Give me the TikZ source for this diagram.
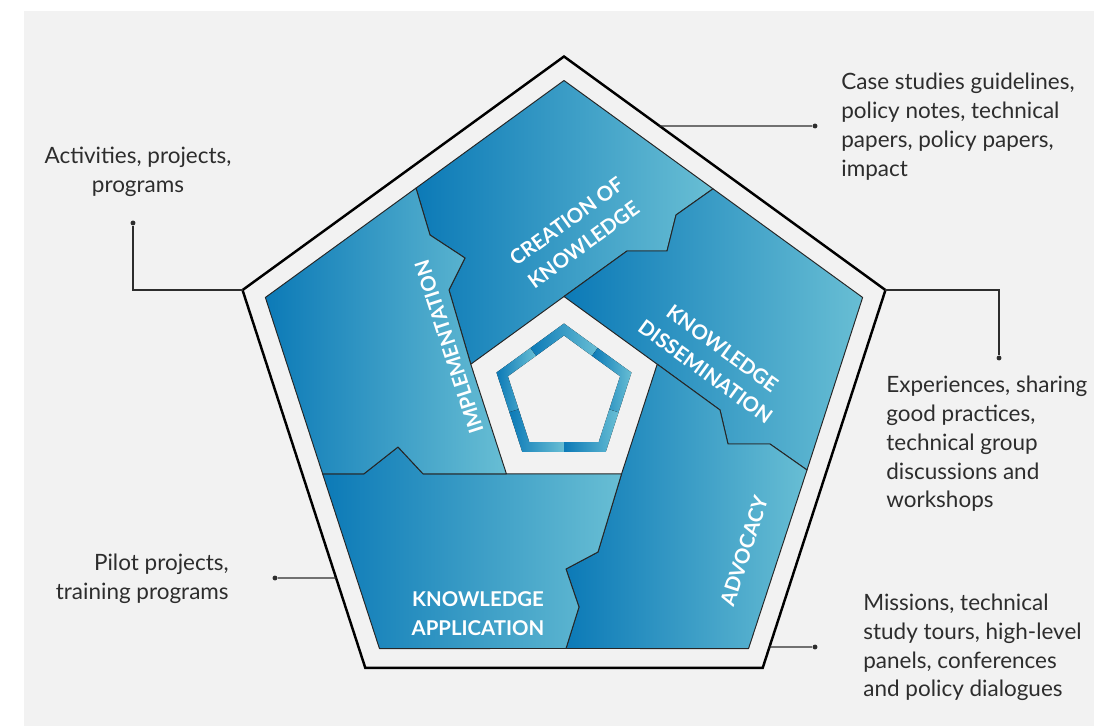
\documentclass[tikz,border=0pt]{standalone}
\usepackage{fontspec}
\setmainfont{Lato}
\usetikzlibrary{calc}

\definecolor{bggray}{RGB}{242,242,242}
\definecolor{kdark}{RGB}{12,122,183}
\definecolor{klight}{RGB}{104,190,212}
\definecolor{txtgray}{RGB}{45,45,45}

\begin{document}
\begin{tikzpicture}[x=0.02cm, y=0.02cm,
    piece/.style={draw=black!85, line width=0.55pt, line join=round, left color=kdark, right color=klight},
    stagetext/.style={text=white, font=\bfseries\fontsize{11.6}{16.4}\selectfont, align=center, inner sep=0pt},
    notetext/.style={text=txtgray, font=\fontsize{12.8}{16.4}\selectfont, inner sep=0pt},
    link/.style={draw=txtgray, line width=0.7pt},
    enddot/.style={circle, fill=txtgray, inner sep=0pt, minimum size=2.8pt}]
    \useasboundingbox (-564,394.5) rectangle (530,-331.5);
    \fill[bggray] (-540,383.5) rectangle (530,-331.5);

    % outer, inner and centre pentagons
    \coordinate (oT) at (90:338);
    \coordinate (oL) at (162:338);
    \coordinate (oBL) at (234:338);
    \coordinate (oBR) at (306:338);
    \coordinate (oR) at (18:338);

    \coordinate (iT) at (90:314);
    \coordinate (iL) at (162:314);
    \coordinate (iBL) at (234:314);
    \coordinate (iBR) at (306:314);
    \coordinate (iR) at (18:314);

    \coordinate (hT) at (90:98);
    \coordinate (hL) at (162:98);
    \coordinate (hBL) at (234:98);
    \coordinate (hBR) at (306:98);
    \coordinate (hR) at (18:98);

    % cuts between the pieces
    \coordinate (cd1) at (63,143.5);
    \coordinate (cd2) at (103,143.5);
    \coordinate (cd3) at (112,179.5);
    \coordinate (cd4) at (149,205.7);

    \coordinate (da1) at (156,-15.5);
    \coordinate (da2) at (164,-49.5);
    \coordinate (da3) at (206,-49.5);
    \coordinate (da4) at (243,-75.5);

    \coordinate (aa1) at (34,-157.5);
    \coordinate (aa2) at (2,-174.5);
    \coordinate (aa3) at (15,-212.5);
    \coordinate (aa4) at (2,-254);

    \coordinate (ai1) at (-141,-79.3);
    \coordinate (ai2) at (-166,-52.5);
    \coordinate (ai3) at (-200,-79.3);
    \coordinate (ai4) at (-241.4,-79.3);

    \coordinate (ic1) at (-115,104.5);
    \coordinate (ic2) at (-99,136.5);
    \coordinate (ic3) at (-134,159.5);
    \coordinate (ic4) at (-148,206.4);

    \draw[piece] (iT) -- (cd4) -- (cd3) -- (cd2) -- (cd1) -- (hT) -- (hL) -- (ic1) -- (ic2) -- (ic3) -- (ic4) -- cycle;
    \draw[piece] (cd4) -- (iR) -- (da4) -- (da3) -- (da2) -- (da1) -- (hR) -- (hT) -- (cd1) -- (cd2) -- (cd3) -- cycle;
    \draw[piece] (da4) -- (iBR) -- (aa4) -- (aa3) -- (aa2) -- (aa1) -- (hBR) -- (hR) -- (da1) -- (da2) -- (da3) -- cycle;
    \draw[piece] (aa4) -- (iBL) -- (ai4) -- (ai3) -- (ai2) -- (ai1) -- (hBL) -- (hBR) -- (aa1) -- (aa2) -- (aa3) -- cycle;
    \draw[piece] (ai4) -- (iL) -- (ic4) -- (ic3) -- (ic2) -- (ic1) -- (hL) -- (hBL) -- (ai1) -- (ai2) -- (ai3) -- cycle;

    \draw[line width=1.4pt] (oT) -- (oR) -- (oBR) -- (oBL) -- (oL) -- cycle;

    % small ring in the middle
    \foreach \a in {90,162,234,306,18} {
        \fill[left color=kdark, right color=klight] (\a-36:57.4) -- (\a:71) -- (\a+36:57.4) -- (\a+36:47.7) -- (\a:59) -- (\a-36:47.7) -- cycle;
    }

    \node[stagetext, rotate=36] (creation) at (11,161.5) {CREATION OF\\KNOWLEDGE};
    \node[stagetext, rotate=-36] (dissemination) at (150,34.5) {KNOWLEDGE\\DISSEMINATION};
    \node[stagetext, rotate=108] (implementation) at (-115,47.5) {IMPLEMENTATION};
    \node[stagetext, rotate=72] (advocacy) at (180,-156.5) {ADVOCACY};
    \node[stagetext] (application) at (-86,-219.5) {KNOWLEDGE\\APPLICATION};

    \node[notetext, anchor=west, align=left] (cases) at (277,268) {Case studies guidelines,\\policy notes, technical\\papers, policy papers,\\impact};
    \node[notetext, anchor=west, align=left] (experiences) at (322,-49.5) {Experiences, sharing\\good practices,\\technical group\\discussions and\\workshops};
    \node[notetext, anchor=west, align=left] (missions) at (299,-253) {Missions, technical\\study tours, high-level\\panels, conferences\\and policy dialogues};
    \node[notetext, align=center] (activities) at (-426,222.5) {Activities, projects,\\programs};
    \node[notetext, anchor=east, align=right] (pilots) at (-335,-184.5) {Pilot projects,\\training programs};

    % connectors
    \coordinate (e1) at ($(oT)!0.2975!(oR)$);
    \node[enddot] (d1) at (251,268.5) {};
    \draw[link] (e1) -- (d1);

    \node[enddot] (d2) at (435,36.5) {};
    \draw[link] (oR) -| (d2);

    \coordinate (e3) at ($(oR)!0.9447!(oBR)$);
    \node[enddot] (d3) at (251,-252.5) {};
    \draw[link] (e3) -- (d3);

    \node[enddot] (d4) at (-431,171.5) {};
    \draw[link] (oL) -| (d4);

    \coordinate (e5) at ($(oL)!0.762!(oBL)$);
    \node[enddot] (d5) at (-289,-183.5) {};
    \draw[link] (e5) -- (d5);
\end{tikzpicture}
\end{document}
